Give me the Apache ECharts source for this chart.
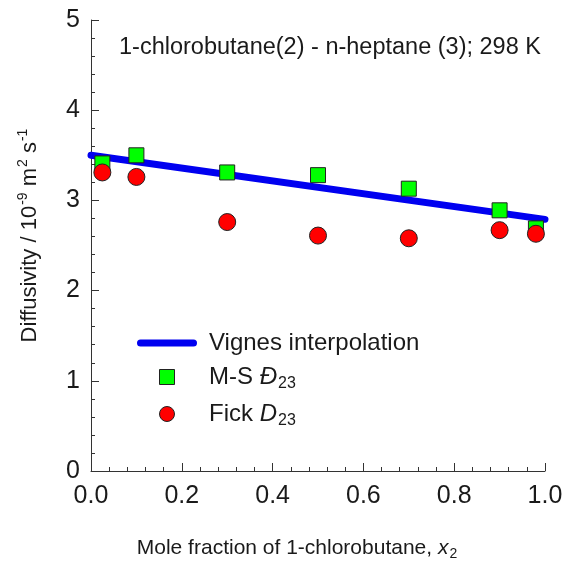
<!DOCTYPE html>
<html><head><meta charset="utf-8">
<script src="https://cdn.jsdelivr.net/npm/echarts@6/dist/echarts.min.js"></script>
<style>html,body{margin:0;padding:0;background:#fff}#c{width:565px;height:564px}</style>
</head><body><div id="c"></div>
<script>
var xTicks = [0, 0.2, 0.4, 0.6, 0.8, 1.0];
var yTicks = [0, 1, 2, 3, 4, 5];
var vignesX = [0, 1];
var vignesY = [3.50, 2.79];
var msX = [0.025, 0.1, 0.3, 0.5, 0.7, 0.9, 0.98];
var msY = [3.41, 3.50, 3.31, 3.28, 3.13, 2.89, 2.69];
var fickX = [0.025, 0.1, 0.3, 0.5, 0.7, 0.9, 0.98];
var fickY = [3.31, 3.26, 2.76, 2.61, 2.58, 2.67, 2.63];

function pairs(xs, ys){ return xs.map(function(x,i){return [x, ys[i]];}); }
var FONT = 'Liberation Sans, Arial, sans-serif';
var TXT = '#1a1a1a';
var chart = echarts.init(document.getElementById('c'), null, {renderer:'canvas'});
var axisCommon = {
  axisLine:{show:true, onZero:false, lineStyle:{color:'#333', width:1}},
  axisTick:{show:true, inside:true, length:8, lineStyle:{color:'#333', width:1}},
  minorTick:{show:true, splitNumber:5, length:4, lineStyle:{color:'#333', width:1}},
  splitLine:{show:false},
  nameMoveOverlap:false
};
chart.setOption({
  animation:false,
  backgroundColor:'#fff',
  textStyle:{fontFamily:FONT},
  title:{text:'1-chlorobutane(2) - n-heptane (3); 298 K', left:114, top:31,
    textStyle:{fontFamily:FONT, fontSize:23.5, fontWeight:'normal', color:TXT}},
  grid:{left:91, right:20, top:20, bottom:93, containLabel:false, outerBoundsMode:'none'},
  xAxis: Object.assign({}, axisCommon, {
    type:'value', min:xTicks[0], max:xTicks[xTicks.length-1], interval:0.2,
    axisLabel:{fontFamily:FONT, fontSize:25, color:TXT, margin:13, formatter:function(v){return v.toFixed(1);}},
    name:'{n|Mole fraction of 1-chlorobutane, }{it|x}{sub|2}', nameLocation:'middle', nameGap:64,
    nameTextStyle:{padding:[0,42,0,0], rich:{
      n:{fontFamily:FONT, fontSize:21, color:TXT, lineHeight:26},
      it:{fontFamily:FONT, fontSize:21, fontStyle:'italic', color:TXT, lineHeight:26},
      sub:{fontFamily:FONT, fontSize:14, color:TXT, verticalAlign:'bottom', lineHeight:26, padding:[11,0,0,1]}
    }}
  }),
  yAxis: Object.assign({}, axisCommon, {
    type:'value', min:yTicks[0], max:yTicks[yTicks.length-1], interval:1,
    axisLabel:{fontFamily:FONT, fontSize:25, color:TXT, margin:11},
    name:'{n|Diffusivity / 10}{sup|-9}{n| m}{sup|2}{n| s}{sup|-1}', nameLocation:'middle', nameGap:47,
    nameRotate:90,
    nameTextStyle:{padding:[0,0,0,20], rich:{
      n:{fontFamily:FONT, fontSize:22, color:TXT, lineHeight:28},
      sup:{fontFamily:FONT, fontSize:14, color:TXT, verticalAlign:'top', lineHeight:28, padding:[0,0,12,1]}
    }}
  }),
  legend:{
    orient:'vertical', left:132, top:326, itemWidth:60, itemHeight:15, itemGap:7,
    symbolKeepAspect:true,
    textStyle:{fontFamily:FONT, fontSize:24, color:TXT, padding:[0,0,0,7], rich:{
      n:{fontFamily:FONT, fontSize:24, color:TXT, lineHeight:28},
      it:{fontFamily:FONT, fontSize:24, fontStyle:'italic', color:TXT, lineHeight:28},
      sub:{fontFamily:FONT, fontSize:16, color:TXT, lineHeight:28, padding:[14,0,0,1]}
    }},
    formatter:function(name){
      if(name==='Vignes interpolation') return '{n|Vignes interpolation}';
      if(name==='MS') return '{n|M-S }{it|Đ}{sub|23}';
      return '{n|Fick }{it|D}{sub|23}';
    },
    data:[
      {name:'Vignes interpolation', icon:'path://M3.5,0 L56.5,0 A3.5,3.5 0 0 1 56.5,7 L3.5,7 A3.5,3.5 0 0 1 3.5,0 Z', itemStyle:{color:'#0000f0', borderWidth:0}},
      {name:'MS', icon:'path://M0,0 L10,0 L10,10 L0,10 Z', itemStyle:{color:'#00ff00', borderColor:'#222', borderWidth:1}},
      {name:'Fick', icon:'circle', itemStyle:{color:'#ff0000', borderColor:'#222', borderWidth:1}}
    ]
  },
  series:[
    {name:'Vignes interpolation', type:'line', data:pairs(vignesX, vignesY), symbol:'none',
      lineStyle:{color:'#0000f0', width:7, cap:'round'}, itemStyle:{color:'#0000f0'}, z:2},
    {name:'MS', type:'scatter', data:pairs(msX, msY), symbol:'rect', symbolSize:15,
      itemStyle:{color:'#00ff00', borderColor:'#222', borderWidth:1, opacity:1}, z:3},
    {name:'Fick', type:'scatter', data:pairs(fickX, fickY), symbol:'circle', symbolSize:17,
      itemStyle:{color:'#ff0000', borderColor:'#222', borderWidth:1, opacity:1}, z:4}
  ]
});
</script></body></html>
